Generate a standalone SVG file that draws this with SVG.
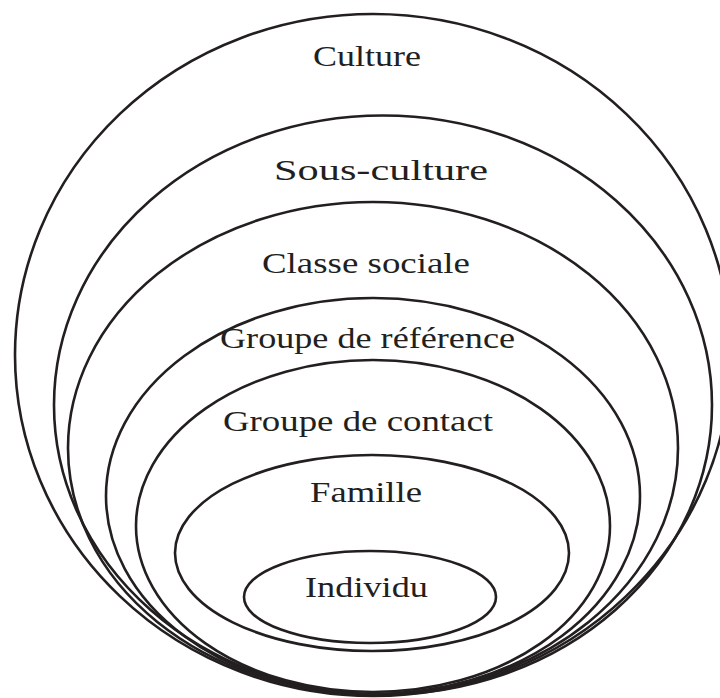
<svg xmlns="http://www.w3.org/2000/svg" width="720" height="698" viewBox="0 0 720 698">
<style>
.ring{fill:none;stroke:#231f20;stroke-width:2.6}
.lbl{font-family:"Liberation Serif","Times New Roman",serif;font-size:30px;fill:#231f20;text-anchor:middle}
</style>
<rect width="720" height="698" fill="#ffffff"/>
<g id="culture"><ellipse class="ring" cx="373" cy="355" rx="358" ry="341"/><text class="lbl" x="367" y="66" textLength="108" lengthAdjust="spacingAndGlyphs">Culture</text></g>
<g id="sous-culture"><ellipse class="ring" cx="383" cy="405" rx="329" ry="289.5"/><text class="lbl" x="381" y="180" textLength="214" lengthAdjust="spacingAndGlyphs">Sous-culture</text></g>
<g id="classe-sociale"><ellipse class="ring" cx="373" cy="448" rx="305" ry="246"/><text class="lbl" x="366" y="273" textLength="208" lengthAdjust="spacingAndGlyphs">Classe sociale</text></g>
<g id="groupe-reference"><ellipse class="ring" cx="373" cy="496" rx="267" ry="198"/><text class="lbl" x="367.5" y="348" textLength="295" lengthAdjust="spacingAndGlyphs">Groupe de référence</text></g>
<g id="groupe-contact"><ellipse class="ring" cx="373" cy="526" rx="237" ry="166"/><text class="lbl" x="358" y="431" textLength="270" lengthAdjust="spacingAndGlyphs">Groupe de contact</text></g>
<g id="famille"><ellipse class="ring" cx="372" cy="553" rx="197" ry="98"/><text class="lbl" x="366" y="502" textLength="112" lengthAdjust="spacingAndGlyphs">Famille</text></g>
<g id="individu"><ellipse class="ring" cx="370" cy="597" rx="126" ry="46"/><text class="lbl" x="366.5" y="597" textLength="123" lengthAdjust="spacingAndGlyphs">Individu</text></g>
<g id="connectors"></g>
</svg>
